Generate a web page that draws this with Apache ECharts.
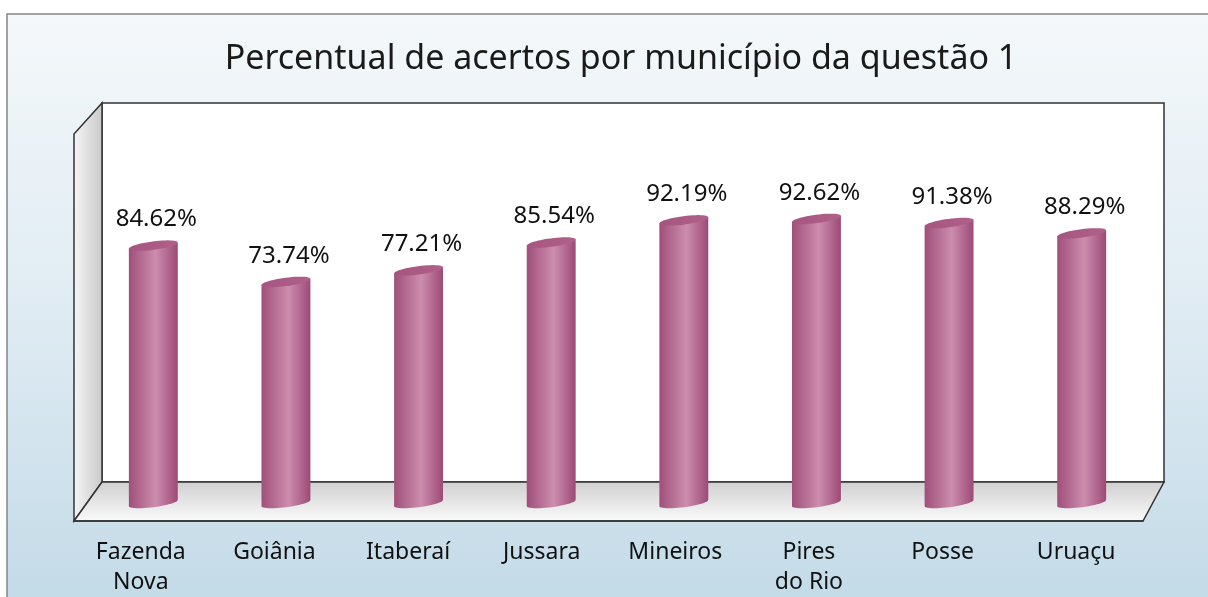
<!DOCTYPE html>
<html>
<head>
<meta charset="utf-8">
<script src="https://cdn.jsdelivr.net/npm/echarts@6/dist/echarts.min.js"></script>
<style>
  html, body { margin: 0; padding: 0; background: #fff; }
  #chart { width: 1208px; height: 597px; }
</style>
</head>
<body>
<div id="chart"></div>
<script>
// data
const categories = ['Fazenda\nNova', 'Goiânia', 'Itaberaí', 'Jussara', 'Mineiros', 'Pires\ndo Rio', 'Posse', 'Uruaçu']
const values = [84.62, 73.74, 77.21, 85.54, 92.19, 92.62, 91.38, 88.29]
const titleText = 'Percentual de acertos por município da questão 1'

const FONT = '"Noto Sans", sans-serif'
const FLOOR_Y = 503 // bottom of the cylinders, on the floor

const chart = echarts.init(document.getElementById('chart'))

// point on a tilted ellipse (right end higher than left end)
function ellipsePt(cx, cy, a, b, tilt, t) {
  return [
    cx + a * Math.cos(t) * Math.cos(tilt) + b * Math.sin(t) * Math.sin(tilt),
    cy - a * Math.cos(t) * Math.sin(tilt) + b * Math.sin(t) * Math.cos(tilt)
  ]
}

function renderCylinder(params, api) {
  const i = api.value(0)
  const v = api.value(1)
  const top = api.coord([i, v])
  const cx = top[0]
  const topY = top[1]
  const a = api.size([1, 0])[0] * 0.186
  const b = 4.2
  const tilt = 0.13

  // body: right side down, bottom arc, left side up
  const pts = []
  pts.push(ellipsePt(cx, topY, a, b, tilt, 0))
  for (let k = 0; k <= 24; k++) {
    pts.push(ellipsePt(cx, FLOOR_Y, a, b, tilt, Math.PI * k / 24))
  }
  pts.push(ellipsePt(cx, topY, a, b, tilt, Math.PI))

  const topPts = []
  for (let k = 0; k < 48; k++) {
    topPts.push(ellipsePt(cx, topY, a, b, tilt, Math.PI * 2 * k / 48))
  }

  return {
    type: 'group',
    children: [
      {
        type: 'polygon',
        shape: { points: pts },
        style: {
          fill: new echarts.graphic.LinearGradient(0, 0, 1, 0, [
            { offset: 0, color: '#a04f7a' },
            { offset: 0.25, color: '#b46b91' },
            { offset: 0.55, color: '#cc8dae' },
            { offset: 0.8, color: '#b26890' },
            { offset: 1, color: '#9c4a75' }
          ])
        }
      },
      {
        type: 'polygon',
        shape: { points: topPts },
        style: {
          fill: new echarts.graphic.LinearGradient(0, 0, 1, 0, [
            { offset: 0, color: '#a5557f' },
            { offset: 1, color: '#b0618a' }
          ])
        }
      },
      {
        type: 'text',
        style: {
          x: cx + 3,
          y: topY - 26,
          text: v.toFixed(2) + '%',
          font: '24px ' + FONT,
          fill: '#111',
          align: 'center',
          verticalAlign: 'middle'
        }
      }
    ]
  }
}

chart.setOption({
  backgroundColor: '#ffffff',
  animation: false,
  graphic: [
    // outer frame with pale blue gradient
    {
      type: 'rect',
      z: -10,
      shape: { x: 7, y: 14, width: 1220, height: 600 },
      style: {
        fill: new echarts.graphic.LinearGradient(0, 0, 0, 1, [
          { offset: 0, color: '#f4f8fa' },
          { offset: 0.5, color: '#dfebf3' },
          { offset: 1, color: '#c2dae7' }
        ]),
        stroke: '#858585',
        lineWidth: 1.5
      }
    },
    {
      type: 'text',
      z: -5,
      style: {
        x: 621,
        y: 59,
        text: titleText,
        font: '34px ' + FONT,
        fill: '#1a1a1a',
        align: 'center',
        verticalAlign: 'middle'
      }
    },
    // back wall
    {
      type: 'rect',
      z: -5,
      shape: { x: 102, y: 103, width: 1062, height: 379 },
      style: { fill: '#ffffff', stroke: '#333', lineWidth: 1.5 }
    },
    // left side wall
    {
      type: 'polygon',
      z: -5,
      shape: { points: [[74, 134], [102, 103], [102, 482], [74, 521]] },
      style: {
        fill: new echarts.graphic.LinearGradient(0, 0, 1, 0, [
          { offset: 0, color: '#f6f6f6' },
          { offset: 1, color: '#c9c9c9' }
        ]),
        stroke: '#333',
        lineWidth: 1.5
      }
    },
    // floor
    {
      type: 'polygon',
      z: -5,
      shape: { points: [[102, 482], [1164, 482], [1143, 521], [74, 521]] },
      style: {
        fill: new echarts.graphic.LinearGradient(0, 0, 0, 1, [
          { offset: 0, color: '#cfcfcf' },
          { offset: 1, color: '#fbfbfb' }
        ]),
        stroke: '#333',
        lineWidth: 1.5
      }
    }
  ],
  grid: [
    { left: 74, right: 65, top: 103, bottom: 76 },   // front edge of the floor
    { left: 87, right: 60, top: 194.3, bottom: 69 }  // plane the cylinders stand in
  ],
  xAxis: [
    {
      type: 'category',
      gridIndex: 0,
      data: categories,
      axisLine: { lineStyle: { color: '#333', width: 1.5 } },
      axisTick: { length: 9, lineStyle: { color: '#333', width: 1.5 } },
      axisLabel: {
        fontFamily: FONT,
        fontSize: 23,
        lineHeight: 30,
        color: '#111',
        margin: 16
      }
    },
    { type: 'category', gridIndex: 1, data: categories, show: false }
  ],
  yAxis: [
    { type: 'value', gridIndex: 0, show: false },
    { type: 'value', gridIndex: 1, min: 0, max: 100, show: false }
  ],
  series: [
    {
      type: 'custom',
      xAxisIndex: 1,
      yAxisIndex: 1,
      renderItem: renderCylinder,
      encode: { x: 0, y: 1 },
      data: values.map((v, i) => [i, v])
    }
  ]
})
</script>
</body>
</html>
